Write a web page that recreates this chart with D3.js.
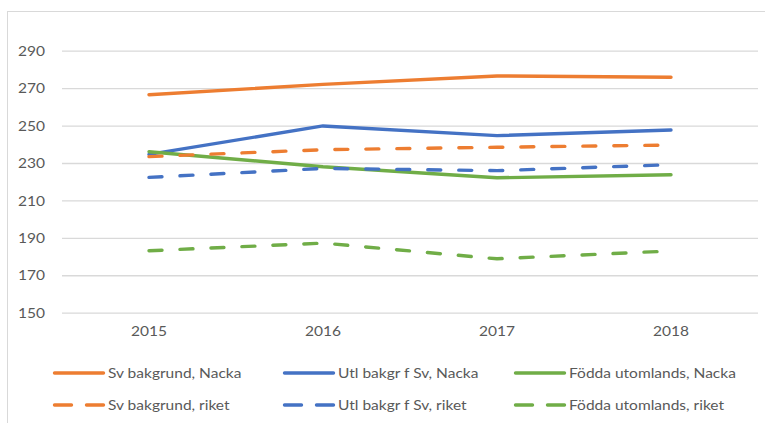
<!DOCTYPE html>
<html>
<head>
<meta charset="utf-8">
<script src="https://cdn.jsdelivr.net/npm/d3@7"></script>
<style>
  body { margin: 0; background: #fff; }
  text { font-family: Lato, "Open Sans", sans-serif; fill: #595959; }
</style>
</head>
<body>
<div id="chart"></div>
<script>
// data
var years = ["2015", "2016", "2017", "2018"];
var yTicks = [150, 170, 190, 210, 230, 250, 270, 290];

var svNacka   = [266.5, 272.0, 276.5, 275.8];
var utlNacka  = [234.6, 249.8, 244.6, 247.6];
var foddNacka = [236.0, 228.0, 222.1, 223.7];
var svRiket   = [233.4, 237.1, 238.4, 239.6];
var utlRiket  = [222.3, 227.1, 225.9, 229.1];
var foddRiket = [183.1, 187.2, 178.8, 183.0];

var seriesNames = ["Sv bakgrund, Nacka", "Utl bakgr f Sv, Nacka", "Födda utomlands, Nacka",
                   "Sv bakgrund, riket", "Utl bakgr f Sv, riket", "Födda utomlands, riket"];
var seriesValues = [svNacka, utlNacka, foddNacka, svRiket, utlRiket, foddRiket];
var colors = ["#ED7D31", "#4472C4", "#70AD47", "#ED7D31", "#4472C4", "#70AD47"];
var dashed = [false, false, false, true, true, true];

var W = 765, H = 423;
var margin = {top: 50.7, right: 7, bottom: 110.3, left: 62};
var width = W - margin.left - margin.right,
    height = H - margin.top - margin.bottom;
var sx = 1.15; // horizontal stretch of the text

var svgRoot = d3.select("#chart").append("svg")
    .attr("width", W)
    .attr("height", H);

// chart border
svgRoot.append("rect")
    .attr("x", 7.5).attr("y", 11.5)
    .attr("width", W + 20).attr("height", H + 20)
    .attr("fill", "none")
    .attr("stroke", "#d9d9d9");

var svg = svgRoot.append("g")
    .attr("transform", "translate(" + margin.left + "," + margin.top + ")");

var x = d3.scaleBand().domain(years).range([0, width]);
var y = d3.scaleLinear().domain([150, 290]).range([height, 0]);

// gridlines + y labels
var yAxis = svg.append("g")
    .call(d3.axisLeft(y).tickValues(yTicks).tickSize(-width).tickFormat(d3.format("d")));
yAxis.select(".domain").remove();
yAxis.selectAll("line").attr("stroke", "#d9d9d9").attr("stroke-width", 1.3);
yAxis.selectAll("text")
    .attr("x", -17 / sx)
    .attr("dy", "0.35em")
    .attr("transform", "scale(" + sx + ",1)")
    .style("font-size", "13.5px")
    .style("font-family", "Lato, sans-serif")
    .attr("fill", "#595959");

// x labels
var xAxis = svg.append("g")
    .attr("transform", "translate(0," + height + ")")
    .call(d3.axisBottom(x).tickSize(0));
xAxis.select(".domain").remove();
xAxis.selectAll(".tick").each(function (d) {
    var t = d3.select(this).select("text");
    t.attr("y", 0).attr("dy", 0)
     .attr("transform", "translate(0,23) scale(" + sx + ",1)")
     .style("font-size", "13.5px")
     .style("font-family", "Lato, sans-serif")
     .attr("fill", "#595959");
});

// lines
var line = d3.line()
    .x(function (d, i) { return x(years[i]) + x.bandwidth() / 2; })
    .y(function (d) { return y(d); });

seriesValues.forEach(function (vals, i) {
    svg.append("path")
        .datum(vals)
        .attr("d", line)
        .attr("fill", "none")
        .attr("stroke", colors[i])
        .attr("stroke-width", 3.4)
        .attr("stroke-linecap", "round")
        .attr("stroke-linejoin", "round")
        .attr("stroke-dasharray", dashed[i] ? "13,18" : null);
});

// legend
var legCols = [53, 283, 514];
var legRows = [373, 405];
var legend = svgRoot.append("g");
seriesNames.forEach(function (name, i) {
    var lx = legCols[i % 3], ly = legRows[Math.floor(i / 3)];
    var g = legend.append("g").attr("transform", "translate(" + lx + "," + ly + ")");
    g.append("line")
        .attr("x1", 1.5).attr("x2", 50.5)
        .attr("y1", 0).attr("y2", 0)
        .attr("stroke", colors[i])
        .attr("stroke-width", 3.4)
        .attr("stroke-linecap", "round")
        .attr("stroke-dasharray", dashed[i] ? "17,15" : null);
    g.append("text")
        .attr("x", 55 / sx)
        .attr("dy", "0.35em")
        .attr("transform", "scale(" + sx + ",1)")
        .style("font-size", "13.5px")
        .text(name);
});
</script>
</body>
</html>
